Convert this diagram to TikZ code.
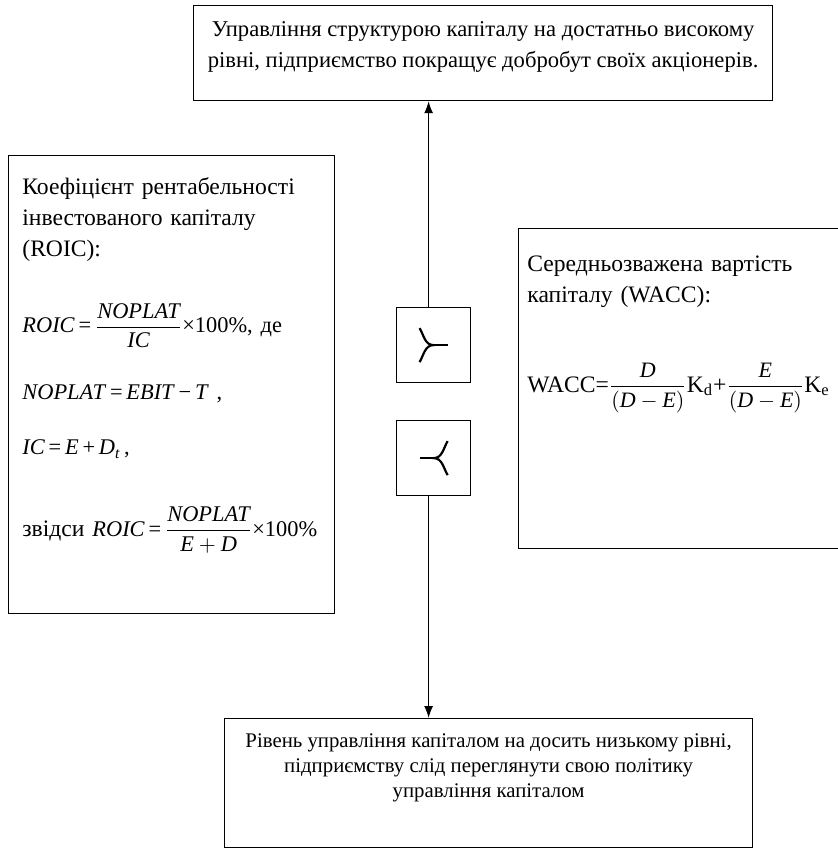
\documentclass[tikz,border=0pt]{standalone}
\usepackage{amsmath}
\usepackage{fontspec}
\setmainfont{Liberation Serif}
\usetikzlibrary{positioning,arrows.meta,calc}
\newcommand{\vr}[1]{\textit{#1}}

\begin{document}
\begin{tikzpicture}[x=0.5pt,y=-0.5pt,
	frame/.style={draw,line width=0.6pt,inner sep=0pt,anchor=north west},
	note/.style={inner sep=0pt,anchor=north west,align=left,
		font=\fontsize{11.8}{15.5}\selectfont},
	forkbox/.style={frame,minimum width=37pt,minimum height=37.5pt},
	fork/.style={line width=1.1pt},
	link/.style={line width=0.6pt,-{Latex[length=6pt,width=4.5pt]}}
]
	\useasboundingbox (0,0) rectangle (838,850);
	% frames
	\node[frame,minimum width=163pt,minimum height=229pt] (roic) at (8,155) {};
	\node[frame,minimum width=289.5pt,minimum height=47.5pt] (high) at (193,5) {};
	\node[frame,minimum width=164pt,minimum height=160pt] (wacc) at (518,228) {};
	\node[frame,minimum width=264pt,minimum height=64.5pt] (low) at (224,718) {};
	\node[forkbox] (forkin) at (396,307) {};
	\node[forkbox] (forkout) at (396,420) {};

	% texts
	\node[align=center,font=\fontsize{11.3}{15.5}\selectfont] (hightext)
		at ($(high.center)+(0,-6)$)
		{Управління структурою капіталу на достатньо високому\\
		 рівні, підприємство покращує добробут своїх акціонерів.};
	\node[note,text width=150pt] (roictext) at ($(roic.north west)+(14,22)$)
		{Коефіцієнт рентабельності\\
		 інвестованого капіталу\\
		 (ROIC):\\[20pt]
		 \mbox{\fontsize{11.2}{15.5}\selectfont\vr{ROIC}\,=\,$\dfrac{\vr{NOPLAT}}{\vr{IC}}$×100\%, де}\\[18pt]
		 {\fontsize{11.2}{15.5}\selectfont\vr{NOPLAT}\,=\,\vr{EBIT}\,−\,\vr{T} ,}\\[12pt]
		 {\fontsize{11.2}{15.5}\selectfont\vr{IC}\,=\,\vr{E}\,+\,\vr{D}$_{\vr{t}}$\,,}\\[23pt]
		 \mbox{звідси {\fontsize{11.2}{15.5}\selectfont\vr{ROIC}\,=\,$\dfrac{\vr{NOPLAT}}{\vr{E}+\vr{D}}$×100\%}}};
	\node[note,text width=155pt] (wacctext) at ($(wacc.north west)+(9,27)$)
		{Середньозважена вартість\\
		 капіталу (WACC):\\[27pt]
		 WACC={\fontsize{11}{13}\selectfont$\dfrac{\vr{D}}{(\vr{D}-\vr{E})}$}K$_\mathrm{d}$+{\fontsize{11}{13}\selectfont$\dfrac{\vr{E}}{(\vr{D}-\vr{E})}$}K$_\mathrm{e}$};
	\node[align=center,font=\fontsize{10.4}{12.5}\selectfont] (lowtext)
		at ($(low.center)+(0,-15)$)
		{Рівень управління капіталом на досить низькому рівні,\\
		 підприємству слід переглянути свою політику\\
		 управління капіталом};

	% forks
	\draw[fork] ([shift={(-7pt,8.5pt)}]forkin.center) to[out=-60,in=180] (forkin.center)
		to[out=180,in=60] ([shift={(-7pt,-8.5pt)}]forkin.center);
	\draw[fork] (forkin.center) -- ++(7pt,0);
	\draw[fork] ([shift={(7pt,8.5pt)}]forkout.center) to[out=-120,in=0] (forkout.center)
		to[out=0,in=120] ([shift={(7pt,-8.5pt)}]forkout.center);
	\draw[fork] (forkout.center) -- ++(-7pt,0);

	% links
	\draw[link] ([xshift=-2.5pt]forkin.north) -- ([xshift=-2.5pt]forkin.north |- high.south);
	\draw[link] ([xshift=-2.5pt]forkout.south) -- ([xshift=-2.5pt]forkout.south |- low.north);
\end{tikzpicture}
\end{document}
